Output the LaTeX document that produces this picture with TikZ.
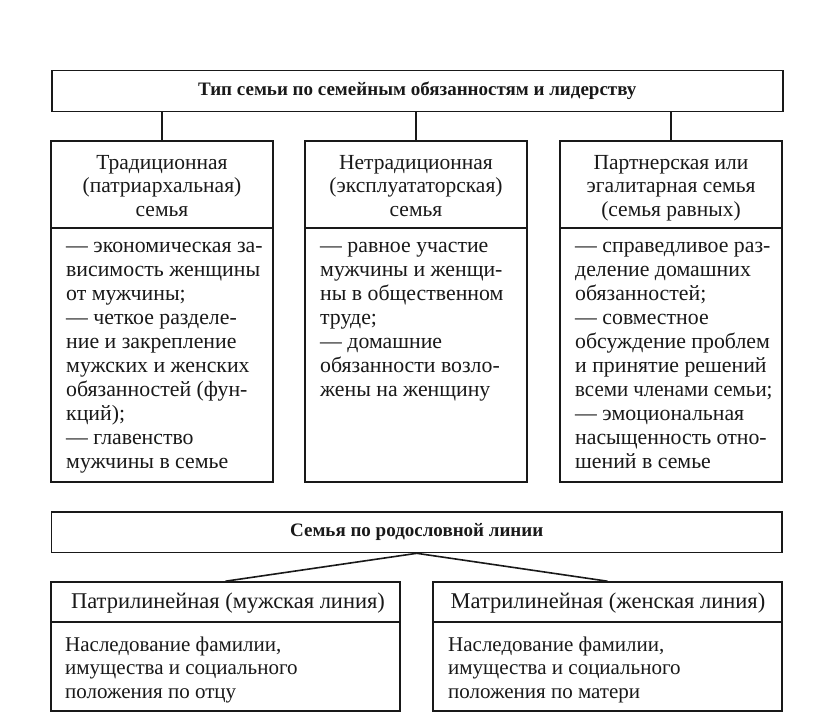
\documentclass[tikz,border=0pt]{standalone}
\usepackage{fontspec}
\setmainfont{Liberation Serif}
\begin{document}
\begin{tikzpicture}[x=1pt,y=-1pt,
  frame/.style={draw=black!90, line width=1.6pt, inner sep=0pt, fill=white},
  link/.style={draw=black!90, line width=1.6pt},
  titletxt/.style={font=\bfseries\fontsize{19}{22}\selectfont, text=black!90},
  hdrtxt/.style={font=\fontsize{21.5}{23.3}\selectfont, align=center, inner sep=0pt, text=black!90},
  bodytxt/.style={font=\fontsize{21.8}{24}\selectfont, align=left, inner sep=0pt, text=black!90},
  lowhdr/.style={font=\fontsize{22.5}{23.3}\selectfont, inner sep=0pt, text=black!90},
  lowbody/.style={font=\fontsize{21}{23.3}\selectfont, align=left, inner sep=0pt, text=black!90}]
\useasboundingbox[fill=white] (0,0) rectangle (816,724);

% top title
\node[frame, titletxt, minimum width=731pt, minimum height=41pt] (t1) at (417.25,91)
  {Тип семьи по семейным обязанностям и лидерству};

% three columns
\node[frame, minimum width=222pt, minimum height=341pt] (b1) at (162,311.5) {};
\node[frame, minimum width=222pt, minimum height=341pt] (b2) at (416,311.5) {};
\node[frame, minimum width=222pt, minimum height=341pt] (b3) at (671,311.5) {};
\foreach \b in {b1,b2,b3}{
  \draw[link] ([yshift=-88pt]\b.north west) -- ([yshift=-88pt]\b.north east);
  \draw[link] (t1.south -| \b.north) -- (\b.north);
}

\node[hdrtxt, anchor=north] (h1) at (162,153) {\strut Традиционная\\(патриархальная)\\семья};
\node[hdrtxt, anchor=north] (h2) at (416,153) {\strut Нетрадиционная\\(эксплуататорская)\\семья};
\node[hdrtxt, anchor=north] (h3) at (671,153) {\strut Партнерская или\\эгалитарная семья\\(семья равных)};

\node[bodytxt, anchor=north west] (d1) at (66,235) {\strut — экономическая за-\\висимость женщины\\от мужчины;\\— четкое разделе-\\ние и закрепление\\мужских и женских\\обязанностей (фун-\\кций);\\— главенство\\мужчины в семье};
\node[bodytxt, anchor=north west] (d2) at (320,235) {\strut — равное участие\\мужчины и женщи-\\ны в общественном\\труде;\\— домашние\\обязанности возло-\\жены на женщину};
\node[bodytxt, anchor=north west] (d3) at (575,235) {\strut — справедливое раз-\\деление домашних\\обязанностей;\\— совместное\\обсуждение проблем\\и принятие решений\\\scalebox{0.96}[1]{всеми членами семьи;}\\— эмоциональная\\насыщенность отно-\\шений в семье};

% lineage
\node[frame, titletxt, minimum width=730.5pt, minimum height=40.5pt] (t2) at (416.75,532.25)
  {Семья по родословной линии};
\node[frame, minimum width=349pt, minimum height=129pt] (pl) at (225.5,646.5) {};
\node[frame, minimum width=349pt, minimum height=129pt] (pm) at (607.5,646.5) {};
\foreach \b in {pl,pm}{
  \draw[link] ([yshift=-41pt]\b.north west) -- ([yshift=-41pt]\b.north east);
}
\draw[link] (t2.south) -- (pl.north);
\draw[link] (t2.south) -- (pm.north);

\node[lowhdr] (lh1) at (228,603) {Патрилинейная (мужская линия)};
\node[lowhdr] (lh2) at (608,603) {Матрилинейная (женская линия)};
\node[lowbody, anchor=north west] (lb1) at (65,635) {\strut Наследование фамилии,\\имущества и социального\\положения по отцу};
\node[lowbody, anchor=north west] (lb2) at (448,635) {\strut Наследование фамилии,\\имущества и социального\\положения по матери};
\end{tikzpicture}
\end{document}
